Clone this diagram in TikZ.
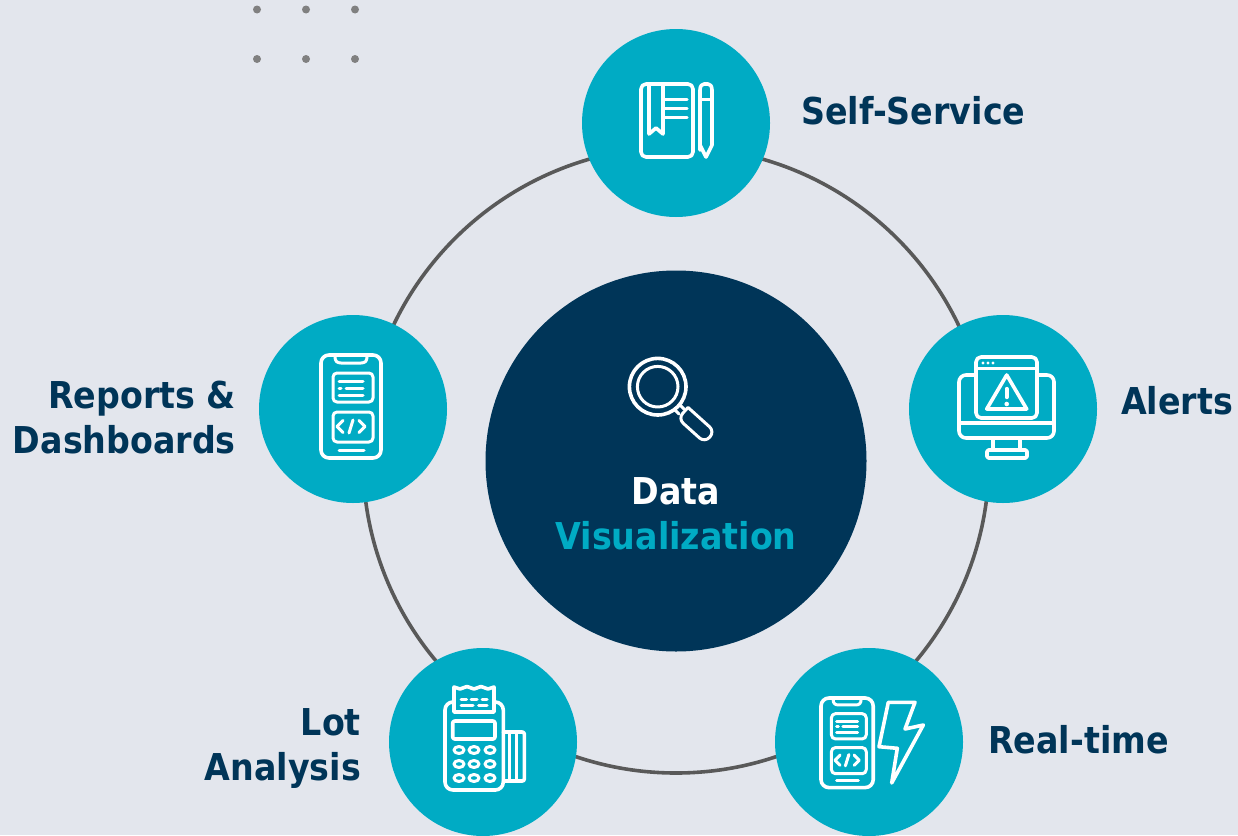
\documentclass[tikz,border=0pt]{standalone}
\usepackage{fontspec}
\setmainfont[FakeStretch=0.9]{DejaVu Sans}
\definecolor{bgc}{HTML}{E3E6ED}
\definecolor{tealc}{HTML}{00ABC4}
\definecolor{navyc}{HTML}{003558}
\definecolor{ringc}{HTML}{595959}
\definecolor{dotc}{HTML}{808080}
\tikzset{
  disc/.style={circle,fill=tealc,draw=none,minimum size=188pt,inner sep=0pt},
  hub/.style={circle,fill=navyc,draw=none,minimum size=381pt,inner sep=0pt},
  ringline/.style={circle,draw=ringc,line width=3.6pt,minimum size=626pt,inner sep=0pt},
  spot/.style={circle,fill=dotc,draw=none,minimum size=8pt,inner sep=0pt},
  lab/.style={font=\fontsize{37}{45}\selectfont\bfseries,text=navyc,inner sep=0pt},
  ico/.style={draw=white,line width=3.6pt,line join=round,line cap=round},
  icot/.style={draw=white,line width=3pt,line join=round,line cap=round}
}
\newcommand{\phoneicon}{%
  \draw[ico,rounded corners=8pt] (0,0) rectangle (60,103);
  \draw[icot] (14,1) -- (14,2) .. controls (14,6) and (16,8) .. (20,8) -- (40,8) .. controls (44,8) and (46,6) .. (46,2) -- (46,1);
  \draw[icot,rounded corners=4pt] (12,18) rectangle (52,47);
  \draw[icot] (18,26.7) -- (42,26.7);
  \draw[icot] (18,33.3) -- (20,33.3) (25,33.3) -- (42,33.3);
  \draw[icot] (18,40) -- (42,40);
  \draw[icot,rounded corners=4pt] (12,57) rectangle (52,87);
  \draw[icot] (22,65.5) -- (16,71.5) -- (22,77.5);
  \draw[icot] (32,65) -- (28,78);
  \draw[icot] (38,65.5) -- (44,71.5) -- (38,77.5);
  \draw[icot] (18,95) -- (43,95);
}
\begin{document}
\begin{tikzpicture}[x=1pt,y=-1pt]
\useasboundingbox (0,0) rectangle (1238,835);
\fill[bgc] (0,0) rectangle (1238,835);
% dots
\foreach \n/\px/\py in {a/257/9.5,b/306/9.5,c/355/9.5,d/257/59,e/306/59,f/355/59}
  \node[spot] (dot\n) at (\px,\py) {};
% ring and circles
\node[ringline] (ring) at (676,460) {};
\node[hub] (center) at (676,461) {};
\node[disc] (top) at (676,123) {};
\node[disc] (right) at (1003,409) {};
\node[disc] (left) at (353,409) {};
\node[disc] (bl) at (483,742) {};
\node[disc] (br) at (869,742) {};
% labels
\node[lab,anchor=base west] (l1) at (801,124) {Self-Service};
\node[lab,anchor=base west] (l2) at (1121,414) {Alerts};
\node[lab,anchor=base west] (l3) at (988,753) {Real-time};
\node[lab,anchor=east,align=right] (l4) at (236,418) {Reports \&\\Dashboards};
\node[lab,anchor=east,align=right] (l5) at (361,748) {Lot\\Analysis};
\node[lab,anchor=center,align=center,text=white] (l6) at (676,514) {Data\\\textcolor{tealc}{Visualization}};
% book icon
\draw[ico,rounded corners=5pt] (641,84) rectangle (693,157);
\draw[ico] (649,84) -- (649,134) -- (656,128) -- (663,134) -- (663,84);
\draw[icot] (663,99) -- (687,99) (663,108) -- (687,108) (663,117) -- (687,117);
\draw[ico] (700,150) -- (700,90) .. controls (700,86) and (702,84) .. (704,84) -- (708,84) .. controls (710,84) and (712,86) .. (712,90) -- (712,145) -- (706,157) -- (700,145);
\draw[icot] (700,99) -- (712,99);
% alert icon
\draw[ico,rounded corners=7pt] (976,375) -- (959,375) -- (959,438) -- (1054,438) -- (1054,375) -- (1037,375);
\draw[ico] (959,423) -- (1054,423);
\draw[ico,rounded corners=5pt] (976,357) rectangle (1037,418);
\draw[icot] (976,368) -- (1037,368);
\fill[white] (983,363) circle (1.7pt) (988,363) circle (1.7pt) (993,363) circle (1.7pt);
\draw[ico] (1006.7,375) -- (986.7,409) -- (1026.7,409) -- cycle;
\draw[white,line width=4.4pt,line cap=round] (1006.7,389) -- (1006.7,397);
\fill[white] (1006.7,404) circle (2.3pt);
\draw[ico] (993,438) -- (993,450) (1020,438) -- (1020,450);
\draw[ico,rounded corners=1.5pt] (987,450) rectangle (1027,458);
% reports phone
\begin{scope}[shift={(321,355)}]
\phoneicon
\end{scope}
% real-time phone and bolt
\begin{scope}[shift={(821,698)},scale=0.87]
\phoneicon
\end{scope}
\draw[ico] (888.3,702.3) -- (915,702.3) -- (905,729) -- (923.3,725) -- (891.7,783) -- (897.3,748.3) -- (879,746.7) -- cycle;
% POS icon
\draw[ico,rounded corners=8pt] (454,702) -- (445,702) -- (445,790) -- (503.3,790) -- (503.3,702) -- (494,702);
\draw[ico] (454,712) -- (454,687) -- (460,689) -- (467,686.5) -- (474,689) -- (481,686.5) -- (488,689) -- (494,687) -- (494,712) -- cycle;
\draw[icot] (461,699) -- (466.5,699) (471,699) -- (477,699) (482,699) -- (487,699);
\draw[icot] (461,705.7) -- (473,705.7) (478.5,705.7) -- (487,705.7);
\draw[ico,rounded corners=2pt] (452.7,721) rectangle (495,739);
\foreach \kx in {459,474,490}
  \foreach \ky in {750,764,778}
    \draw[icot] (\kx,\ky) ellipse (5pt and 3.5pt);
\draw[ico,rounded corners=2pt] (503.3,732) -- (524.3,732) -- (524.3,781) -- (503.3,781);
\draw[icot] (509.3,732) -- (509.3,781) (516.7,732) -- (516.7,781);
% magnifier
\draw[ico] (657.7,386.7) circle (28.3pt);
\draw[icot] (657.7,386.7) circle (20.3pt);
\draw[icot] (675,410) -- (679,414) (680,405) -- (684,409);
\begin{scope}[shift={(683,413)},rotate=-42]
\draw[icot,rounded corners=7pt] (0,-7.5) -- (36,-7.5) -- (36,7.5) -- (0,7.5) [sharp corners] -- cycle;
\end{scope}
\end{tikzpicture}
\end{document}
